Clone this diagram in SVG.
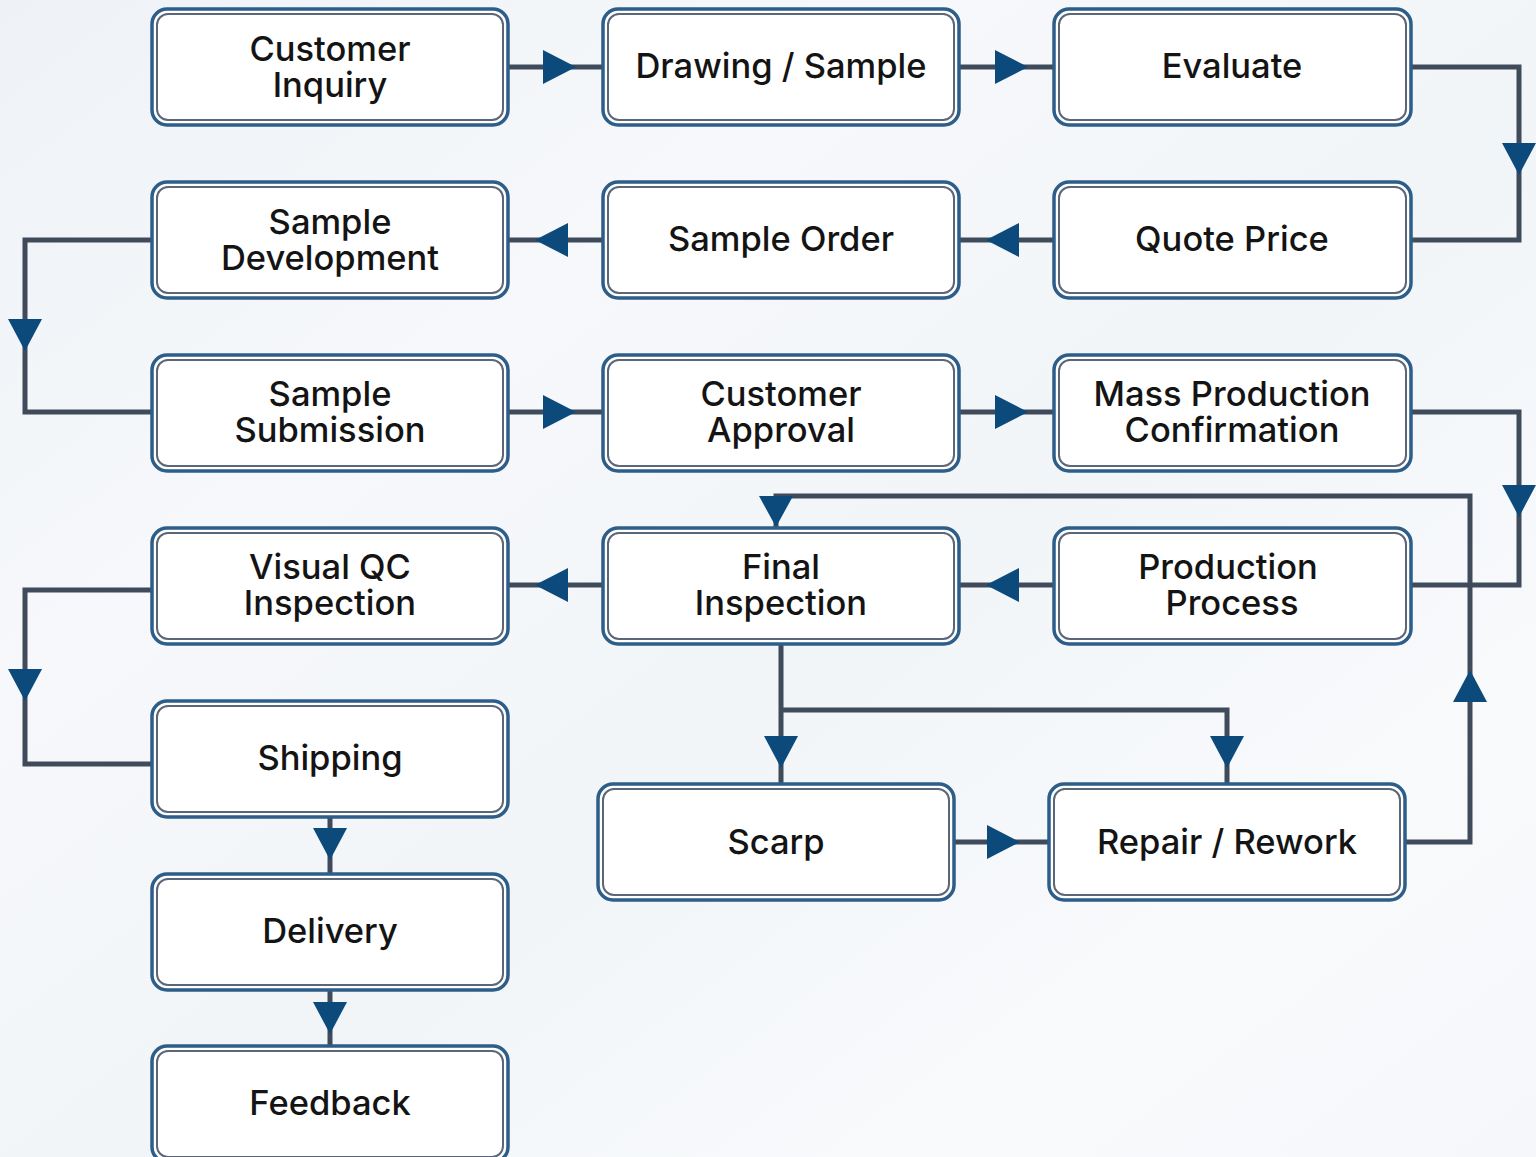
<svg xmlns="http://www.w3.org/2000/svg" width="1536" height="1157" viewBox="0 0 1536 1157">
<defs>
<linearGradient id="bg" x1="0" y1="0" x2="1" y2="1">
<stop offset="0" stop-color="#eef2f6"/>
<stop offset="0.3" stop-color="#f6f8fb"/>
<stop offset="0.55" stop-color="#f2f5f8"/>
<stop offset="0.8" stop-color="#f8fafc"/>
<stop offset="1" stop-color="#f5f7fa"/>
</linearGradient>
<style>
.o{fill:#ffffff;stroke:#2d5e89;stroke-width:3.5}
.i{fill:#ffffff;stroke:#5b6778;stroke-width:2}
.t{font-family:Inter,"Noto Sans","Liberation Sans",sans-serif;font-size:34.5px;font-weight:500;fill:#141414;text-anchor:middle}
.c{fill:none;stroke:#3f4b5b;stroke-width:5;stroke-linejoin:miter}
.a{fill:#0c4a7c}
</style>
</defs>
<rect x="0" y="0" width="1536" height="1157" fill="url(#bg)"/>

<g id="connectors">
<path class="c" d="M508 67H603"/>
<path class="c" d="M959 67H1054"/>
<path class="c" d="M1411 67H1519V240H1411"/>
<path class="c" d="M1054 240H959"/>
<path class="c" d="M603 240H508"/>
<path class="c" d="M152 240H25V412H152"/>
<path class="c" d="M508 412H603"/>
<path class="c" d="M959 412H1054"/>
<path class="c" d="M1411 412H1519V585H1411"/>
<path class="c" d="M1054 585H959"/>
<path class="c" d="M603 585H508"/>
<path class="c" d="M152 590H25V764H152"/>
<path class="c" d="M330 816V873"/>
<path class="c" d="M330 989V1045"/>
<path class="c" d="M781 643V783"/>
<path class="c" d="M781 710H1227V783"/>
<path class="c" d="M954 842H1049"/>
<path class="c" d="M1405 842H1470V496H776V527"/>
<polygon class="a" points="543,50 576,67 543,84"/>
<polygon class="a" points="995,50 1028,67 995,84"/>
<polygon class="a" points="1502,143 1536,143 1519,175"/>
<polygon class="a" points="1019,223 986,240 1019,257"/>
<polygon class="a" points="568,223 535,240 568,257"/>
<polygon class="a" points="8,319 42,319 25,351"/>
<polygon class="a" points="543,395 576,412 543,429"/>
<polygon class="a" points="995,395 1028,412 995,429"/>
<polygon class="a" points="1502,485 1536,485 1519,517"/>
<polygon class="a" points="1019,568 986,585 1019,602"/>
<polygon class="a" points="568,568 535,585 568,602"/>
<polygon class="a" points="8,669 42,669 25,701"/>
<polygon class="a" points="313,828 347,828 330,860"/>
<polygon class="a" points="313,1002 347,1002 330,1034"/>
<polygon class="a" points="764,736 798,736 781,768"/>
<polygon class="a" points="1210,736 1244,736 1227,768"/>
<polygon class="a" points="987,825 1020,842 987,859"/>
<polygon class="a" points="1453,702 1487,702 1470,670"/>
<polygon class="a" points="759,496 793,496 776,527"/>
</g>

<g id="n1"><rect class="o" x="152" y="9" width="356" height="116" rx="15"/><rect class="i" x="157" y="14" width="346" height="106" rx="11"/><text class="t" x="330" y="61">Customer<tspan x="330" dy="36">Inquiry</tspan></text></g>
<g id="n2"><rect class="o" x="603" y="9" width="356" height="116" rx="15"/><rect class="i" x="608" y="14" width="346" height="106" rx="11"/><text class="t" x="781" y="78">Drawing / Sample</text></g>
<g id="n3"><rect class="o" x="1054" y="9" width="357" height="116" rx="15"/><rect class="i" x="1059" y="14" width="347" height="106" rx="11"/><text class="t" x="1232" y="78">Evaluate</text></g>

<g id="n4"><rect class="o" x="1054" y="182" width="357" height="116" rx="15"/><rect class="i" x="1059" y="187" width="347" height="106" rx="11"/><text class="t" x="1232" y="251">Quote Price</text></g>
<g id="n5"><rect class="o" x="603" y="182" width="356" height="116" rx="15"/><rect class="i" x="608" y="187" width="346" height="106" rx="11"/><text class="t" x="781" y="251">Sample Order</text></g>
<g id="n6"><rect class="o" x="152" y="182" width="356" height="116" rx="15"/><rect class="i" x="157" y="187" width="346" height="106" rx="11"/><text class="t" x="330" y="234">Sample<tspan x="330" dy="36">Development</tspan></text></g>

<g id="n7"><rect class="o" x="152" y="355" width="356" height="116" rx="15"/><rect class="i" x="157" y="360" width="346" height="106" rx="11"/><text class="t" x="330" y="406">Sample<tspan x="330" dy="36">Submission</tspan></text></g>
<g id="n8"><rect class="o" x="603" y="355" width="356" height="116" rx="15"/><rect class="i" x="608" y="360" width="346" height="106" rx="11"/><text class="t" x="781" y="406">Customer<tspan x="781" dy="36">Approval</tspan></text></g>
<g id="n9"><rect class="o" x="1054" y="355" width="357" height="116" rx="15"/><rect class="i" x="1059" y="360" width="347" height="106" rx="11"/><text class="t" x="1232" y="406">Mass Production<tspan x="1232" dy="36">Confirmation</tspan></text></g>

<g id="n10"><rect class="o" x="1054" y="528" width="357" height="116" rx="15"/><rect class="i" x="1059" y="533" width="347" height="106" rx="11"/><text class="t" x="1228" y="579">Production<tspan x="1232" dy="36">Process</tspan></text></g>
<g id="n11"><rect class="o" x="603" y="528" width="356" height="116" rx="15"/><rect class="i" x="608" y="533" width="346" height="106" rx="11"/><text class="t" x="781" y="579">Final<tspan x="781" dy="36">Inspection</tspan></text></g>
<g id="n12"><rect class="o" x="152" y="528" width="356" height="116" rx="15"/><rect class="i" x="157" y="533" width="346" height="106" rx="11"/><text class="t" x="330" y="579">Visual QC<tspan x="330" dy="36">Inspection</tspan></text></g>

<g id="n13"><rect class="o" x="152" y="701" width="356" height="116" rx="15"/><rect class="i" x="157" y="706" width="346" height="106" rx="11"/><text class="t" x="330" y="770">Shipping</text></g>
<g id="n14"><rect class="o" x="152" y="874" width="356" height="116" rx="15"/><rect class="i" x="157" y="879" width="346" height="106" rx="11"/><text class="t" x="330" y="943">Delivery</text></g>
<g id="n15"><rect class="o" x="152" y="1046" width="356" height="116" rx="15"/><rect class="i" x="157" y="1051" width="346" height="106" rx="11"/><text class="t" x="330" y="1115">Feedback</text></g>

<g id="n16"><rect class="o" x="598" y="784" width="356" height="116" rx="15"/><rect class="i" x="603" y="789" width="346" height="106" rx="11"/><text class="t" x="776" y="854">Scarp</text></g>
<g id="n17"><rect class="o" x="1049" y="784" width="356" height="116" rx="15"/><rect class="i" x="1054" y="789" width="346" height="106" rx="11"/><text class="t" x="1227" y="854">Repair / Rework</text></g>
</svg>
